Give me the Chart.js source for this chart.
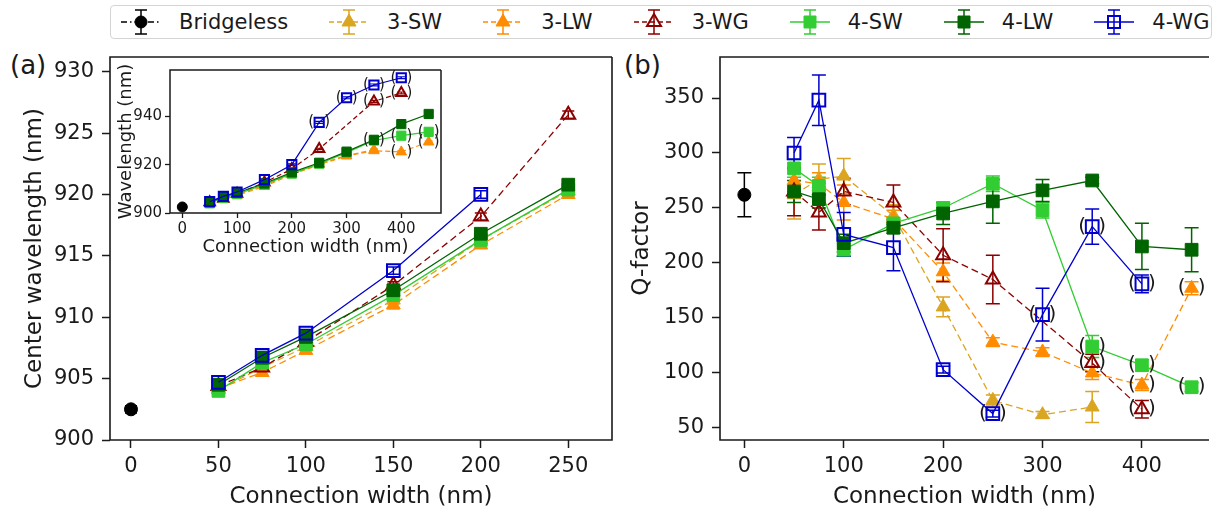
<!DOCTYPE html>
<html>
<head>
<meta charset="utf-8">
<script src="https://cdn.jsdelivr.net/npm/chart.js@4/dist/chart.umd.min.js"></script>
<style>
body { margin: 0; background: #fff; width: 1220px; height: 517px; overflow: hidden; position: relative;
       font-family: 'DejaVu Sans', sans-serif; color: #1a1a1a; }
.plot { position: absolute; }
#legend { position: absolute; left: 110px; top: 5px; width: 1102px; height: 34px; box-sizing: border-box;
          border: 1px solid #d4d4d4; border-radius: 4px; display: flex; align-items: center; padding-left: 10px; background: #fff; }
.item { display: flex; align-items: center; margin-right: 41px; font-size: 21px; white-space: nowrap; }
.item canvas { margin-right: 18px; }
.plabel { position: absolute; font-size: 26px; line-height: 1; }
</style>
</head>
<body>
<div id="legend"></div>
<div class="plabel" style="left:10px;top:52px">(a)</div>
<div class="plabel" style="left:624px;top:52px">(b)</div>
<canvas id="chartA" class="plot" width="640" height="517" style="left:0;top:0"></canvas>
<canvas id="chartB" class="plot" width="620" height="517" style="left:600px;top:0"></canvas>
<canvas id="inset" class="plot" width="350" height="204" style="left:100px;top:58px"></canvas>
<script>
// connection widths (nm)
var widths = [50, 75, 100, 150, 200, 250, 300, 350, 400, 450];
var seriesNames = ['3-SW', '3-LW', '3-WG', '4-SW', '4-LW', '4-WG'];
var seriesColors = ['#DAA520', '#FF8C00', '#8B0000', '#32CD32', '#006400', '#0000CD'];

var bridgelessWidth = [0];
var bridgelessWl = [902.5];
var bridgelessWlErr = [0.3];
var bridgelessQ = [262];
var bridgelessQErr = [20];

// center wavelength (nm), null = no measurement
var wl3SW = [904.1, 905.9, 907.6, 911.4, 916.3, 920.3, 923.8, 926.2, null, null];
var wl3LW = [904.2, 905.5, 907.3, 911.0, 915.9, 920.0, 923.6, 925.8, 925.3, 929.4];
var wl3WG = [904.4, 905.9, 908.0, 912.6, 918.2, 926.5, null, 946.2, 949.7, null];
var wl4SW = [904.0, 906.3, 907.8, 911.8, 916.3, 920.4, 925.0, 930.0, 932.0, 933.6];
var wl4LW = [904.5, 906.7, 908.4, 912.2, 916.8, 920.8, 925.4, 930.3, 936.8, 941.0];
var wl4WG = [904.7, 906.9, 908.7, 913.8, 920.0, 937.5, 947.7, 953.0, 956.0, null];

var wlErr3SW = [0.3, 0.2, 0.2, 0.3, 0.2, 0.3, 0.3, 0.4, null, null];
var wlErr3LW = [0.2, 0.3, 0.2, 0.3, 0.3, 0.3, 0.3, 0.4, 0.4, 0.4];
var wlErr3WG = [0.2, 0.3, 0.2, 0.3, 0.3, 0.3, null, 0.4, 0.4, null];
var wlErr4SW = [0.3, 0.2, 0.2, 0.3, 0.2, 0.3, 0.3, 0.4, 0.4, 0.4];
var wlErr4LW = [0.2, 0.2, 0.3, 0.3, 0.3, 0.3, 0.3, 0.3, 0.4, 0.4];
var wlErr4WG = [0.2, 0.3, 0.3, 0.3, 0.3, 0.4, 0.4, 0.4, 0.4, null];

// Q-factor
var q3SW = [262, 276, 279, 243, 160, 75, 62, 69, null, null];
var q3LW = [275, 272, 255, 240, 192, 128, 119, 100, 89, 177];
var q3WG = [265, 246, 265, 255, 207, 185, null, 109, 67, null];
var q4SW = [286, 270, 212, 236, 250, 272, 248, 124, 107, 87];
var q4LW = [265, 258, 218, 232, 245, 256, 266, 275, 215, 212];
var q4WG = [300, 348, 226, 214, 103, 63, 153, 233, 181, null];

var qErr3SW = [22, 14, 16, 10, 9, 5, 3, 14, null, null];
var qErr3LW = [10, 10, 16, 8, 8, 4, 4, 6, 5, 6];
var qErr3WG = [22, 16, 12, 16, 24, 22, null, 8, 8, null];
var qErr4SW = [8, 8, 6, 5, 5, 7, 7, 10, 5, 4];
var qErr4LW = [10, 8, 8, 5, 10, 20, 10, 3, 21, 20];
var qErr4WG = [14, 23, 20, 21, 3, 3, 24, 16, 8, null];

// widths whose values are shown in parentheses
var flagged3SW = [];
var flagged3LW = [400, 450];
var flagged3WG = [350, 400];
var flagged4SW = [350, 400, 450];
var flagged4LW = [];
var flagged4WG = [250, 300, 350, 400];

// tick labels
var ticksAx = [0, 50, 100, 150, 200, 250];
var ticksAy = [900, 905, 910, 915, 920, 925, 930];
var ticksBx = [0, 100, 200, 300, 400];
var ticksBy = [50, 100, 150, 200, 250, 300, 350];
var ticksInsetX = [0, 100, 200, 300, 400];
var ticksInsetY = [900, 920, 940];

var series = [
    { wl: wl3SW, wlErr: wlErr3SW, q: q3SW, qErr: qErr3SW, flagged: flagged3SW },
    { wl: wl3LW, wlErr: wlErr3LW, q: q3LW, qErr: qErr3LW, flagged: flagged3LW },
    { wl: wl3WG, wlErr: wlErr3WG, q: q3WG, qErr: qErr3WG, flagged: flagged3WG },
    { wl: wl4SW, wlErr: wlErr4SW, q: q4SW, qErr: qErr4SW, flagged: flagged4SW },
    { wl: wl4LW, wlErr: wlErr4LW, q: q4LW, qErr: qErr4LW, flagged: flagged4LW },
    { wl: wl4WG, wlErr: wlErr4WG, q: q4WG, qErr: qErr4WG, flagged: flagged4WG }
];
series.forEach(function(s, i) {
    s.name = seriesNames[i];
    s.color = seriesColors[i];
    s.dashed = s.name.charAt(0) === '3';
    s.open = s.name.indexOf('WG') > 0;
    s.style = s.dashed ? 'triangle' : 'rect';
});

var TEXT = '#1a1a1a';
Chart.defaults.font.family = "'DejaVu Sans', sans-serif";
Chart.defaults.color = TEXT;

function makePoints(s, vals, errs, keep) {
    var pts = [];
    widths.forEach(function(w, i) {
        var f = s.flagged.indexOf(w) >= 0;
        if (vals[i] === null || !keep(w, f)) return;
        pts.push({ x: w, y: vals[i], e: errs[i], p: f });
    });
    return pts;
}

function makeDatasets(kind, size) {
    var sets = [{
        label: 'Bridgeless',
        data: [{ x: bridgelessWidth[0], y: kind === 'q' ? bridgelessQ[0] : bridgelessWl[0],
                 e: kind === 'q' ? bridgelessQErr[0] : bridgelessWlErr[0], p: false }],
        showLine: false, borderColor: '#000', backgroundColor: '#000',
        pointStyle: 'circle', pointRadius: size.circle, pointBorderWidth: 1, order: 7
    }];
    series.forEach(function(s, i) {
        var pts;
        if (kind === 'q') pts = makePoints(s, s.q, s.qErr, function() { return true; });
        else if (kind === 'inset') pts = makePoints(s, s.wl, s.wlErr, function() { return true; });
        else pts = makePoints(s, s.wl, s.wlErr, function(w, f) { return w <= 250 && !f; });
        sets.push({
            label: s.name,
            data: pts,
            showLine: true,
            borderColor: s.color,
            backgroundColor: s.open ? 'rgba(255,255,255,0)' : s.color,
            pointBackgroundColor: s.open ? 'rgba(255,255,255,0)' : s.color,
            pointBorderColor: s.color,
            pointStyle: s.style,
            pointRadius: s.style === 'rect' ? size.rect : size.tri,
            pointBorderWidth: s.open ? size.openWidth : 1,
            borderWidth: size.line,
            borderDash: s.dashed ? size.dash : [],
            order: 6 - i
        });
    });
    return sets;
}

var errorBars = {
    id: 'errorBars',
    beforeDatasetsDraw: function(chart, args, o) {
        var ctx = chart.ctx, xs = chart.scales.x, ys = chart.scales.y, a = chart.chartArea;
        ctx.save();
        ctx.beginPath();
        ctx.rect(a.left, a.top, a.right - a.left, a.bottom - a.top);
        ctx.clip();
        ctx.lineWidth = o.width;
        ctx.setLineDash([]);
        chart.data.datasets.slice().sort(function(d1, d2) { return d2.order - d1.order; }).forEach(function(ds) {
            ctx.strokeStyle = ds.borderColor;
            ds.data.forEach(function(pt) {
                if (!pt.e) return;
                var x = xs.getPixelForValue(pt.x);
                var y1 = ys.getPixelForValue(pt.y + pt.e), y2 = ys.getPixelForValue(pt.y - pt.e);
                ctx.beginPath();
                ctx.moveTo(x, y1); ctx.lineTo(x, y2);
                ctx.moveTo(x - o.cap, y1); ctx.lineTo(x + o.cap, y1);
                ctx.moveTo(x - o.cap, y2); ctx.lineTo(x + o.cap, y2);
                ctx.stroke();
            });
        });
        ctx.restore();
    }
};

var parens = {
    id: 'parens',
    afterDatasetsDraw: function(chart, args, o) {
        var ctx = chart.ctx, xs = chart.scales.x, ys = chart.scales.y;
        ctx.save();
        ctx.fillStyle = TEXT;
        ctx.font = o.size + "px 'DejaVu Sans'";
        ctx.textAlign = 'center';
        ctx.textBaseline = 'middle';
        chart.data.datasets.forEach(function(ds) {
            ds.data.forEach(function(pt) {
                if (!pt.p) return;
                var x = xs.getPixelForValue(pt.x), y = ys.getPixelForValue(pt.y);
                ctx.fillText('(', x - o.off, y);
                ctx.fillText(')', x + o.off, y);
            });
        });
        ctx.restore();
    }
};

var frame = {
    id: 'frame',
    beforeDraw: function(chart, args, o) {
        if (!o.fill) return;
        var a = chart.chartArea, ctx = chart.ctx;
        ctx.save();
        ctx.fillStyle = '#fff';
        ctx.fillRect(a.left, a.top, a.right - a.left, a.bottom - a.top);
        ctx.restore();
    },
    afterDraw: function(chart, args, o) {
        var a = chart.chartArea, ctx = chart.ctx;
        ctx.save();
        ctx.strokeStyle = TEXT;
        ctx.lineWidth = o.width;
        ctx.beginPath();
        ctx.moveTo(a.right, a.top); ctx.lineTo(a.left, a.top); ctx.lineTo(a.left, a.bottom); ctx.lineTo(a.right, a.bottom);
        if (o.right) ctx.lineTo(a.right, a.top);
        ctx.stroke();
        ctx.restore();
    }
};

function axis(min, max, tickVals, title, c, isY) {
    return {
        type: 'linear', min: min, max: max,
        afterBuildTicks: function(scale) { scale.ticks = tickVals.map(function(v) { return { value: v }; }); },
        afterFit: function(scale) { if (isY) scale.width = c.size; else scale.height = c.size; },
        grid: { display: true, drawOnChartArea: false, drawTicks: true, tickLength: c.tickLen,
                tickWidth: c.tickWidth, tickColor: TEXT },
        border: { display: false },
        ticks: { padding: c.pad, font: { size: c.tickFont }, color: TEXT, maxRotation: 0, autoSkip: false },
        title: { display: true, text: title, font: { size: c.titleFont }, color: TEXT,
                 padding: isY ? { top: c.titlePad, bottom: 0 } : { top: 0, bottom: c.titlePad } }
    };
}

function makeChart(id, datasets, scales, padding, plug) {
    return new Chart(document.getElementById(id), {
        type: 'scatter',
        data: { datasets: datasets },
        options: {
            responsive: false, animation: false, events: [],
            layout: { padding: padding },
            scales: scales,
            plugins: {
                legend: { display: false }, tooltip: { enabled: false },
                errorBars: plug.err, parens: plug.par, frame: plug.frame
            }
        },
        plugins: [frame, errorBars, parens]
    });
}

var bigSize = { rect: 9, tri: 8, circle: 6.5, openWidth: 2, line: 1.3, dash: [7, 4] };
var smallSize = { rect: 6.5, tri: 6, circle: 5, openWidth: 2, line: 1.2, dash: [5, 3] };

// panel (a)
makeChart('chartA', makeDatasets('main', bigSize), {
    x: axis(-12, 275, ticksAx, 'Connection width (nm)',
            { size: 77, tickLen: 8, tickWidth: 1.5, pad: 6, tickFont: 21, titleFont: 23, titlePad: 6 }, false),
    y: axis(900, 931.2, ticksAy, 'Center wavelength (nm)',
            { size: 110, tickLen: 8, tickWidth: 1.5, pad: 8, tickFont: 21, titleFont: 23, titlePad: 21 }, true)
}, { left: 0, top: 57, right: 28, bottom: 0 },
{ err: { cap: 6, width: 1.5 }, par: { size: 20, off: 11 }, frame: { width: 1.6, right: true } });

// panel (b)
makeChart('chartB', makeDatasets('q', bigSize), {
    x: axis(-24.5, 467.5, ticksBx, 'Connection width (nm)',
            { size: 77, tickLen: 8, tickWidth: 1.5, pad: 6, tickFont: 21, titleFont: 23, titlePad: 6 }, false),
    y: axis(39, 387.3, ticksBy, 'Q-factor',
            { size: 120, tickLen: 8, tickWidth: 1.5, pad: 8, tickFont: 21, titleFont: 23, titlePad: 28 }, true)
}, { left: 0, top: 57, right: 0, bottom: 0 },
{ err: { cap: 7, width: 1.5 }, par: { size: 20, off: 10 }, frame: { width: 1.6, right: false } });

// inset of panel (a)
makeChart('inset', makeDatasets('inset', smallSize), {
    x: axis(-22.5, 472.5, ticksInsetX, 'Connection width (nm)',
            { size: 49, tickLen: 5, tickWidth: 1.3, pad: 2, tickFont: 15, titleFont: 18, titlePad: 4 }, false),
    y: axis(900, 959.2, ticksInsetY, 'Wavelength (nm)',
            { size: 70, tickLen: 5, tickWidth: 1.3, pad: 3, tickFont: 15, titleFont: 18, titlePad: 16 }, true)
}, { left: 0, top: 7, right: 9, bottom: 0 },
{ err: { cap: 4, width: 1.2 }, par: { size: 15, off: 8 }, frame: { width: 1.5, right: true, fill: true } });

// legend spanning both panels
function drawGlyph(cv, color, style, open, dash) {
    var ctx = cv.getContext('2d');
    var cx = 20, cy = 15;
    ctx.strokeStyle = color;
    ctx.fillStyle = open ? 'rgba(255,255,255,0)' : color;
    ctx.lineWidth = 1.3;
    ctx.setLineDash(dash);
    ctx.beginPath(); ctx.moveTo(0, cy); ctx.lineTo(40, cy); ctx.stroke();
    ctx.setLineDash([]);
    ctx.lineWidth = 1.5;
    ctx.beginPath();
    ctx.moveTo(cx, 3); ctx.lineTo(cx, 27);
    ctx.moveTo(cx - 6, 3); ctx.lineTo(cx + 6, 3);
    ctx.moveTo(cx - 6, 27); ctx.lineTo(cx + 6, 27);
    ctx.stroke();
    ctx.lineWidth = open ? 2 : 1;
    ctx.beginPath();
    if (style === 'circle') ctx.arc(cx, cy, 6, 0, Math.PI * 2);
    else if (style === 'rect') ctx.rect(cx - 6, cy - 6, 12, 12);
    else { ctx.moveTo(cx, cy - 8); ctx.lineTo(cx + 7, cy + 4); ctx.lineTo(cx - 7, cy + 4); ctx.closePath(); }
    ctx.fill();
    ctx.stroke();
}

var legendEl = document.getElementById('legend');
function addLegendItem(label, color, style, open, dash) {
    var item = document.createElement('div');
    item.className = 'item';
    var cv = document.createElement('canvas');
    cv.width = 40; cv.height = 30;
    item.appendChild(cv);
    var span = document.createElement('span');
    span.textContent = label;
    item.appendChild(span);
    legendEl.appendChild(item);
    drawGlyph(cv, color, style, open, dash);
}
addLegendItem('Bridgeless', '#000', 'circle', false, [6, 3, 1.5, 3]);
series.forEach(function(s) {
    addLegendItem(s.name, s.color, s.style, s.open, s.dashed ? [5, 3] : []);
});
</script>
</body>
</html>
